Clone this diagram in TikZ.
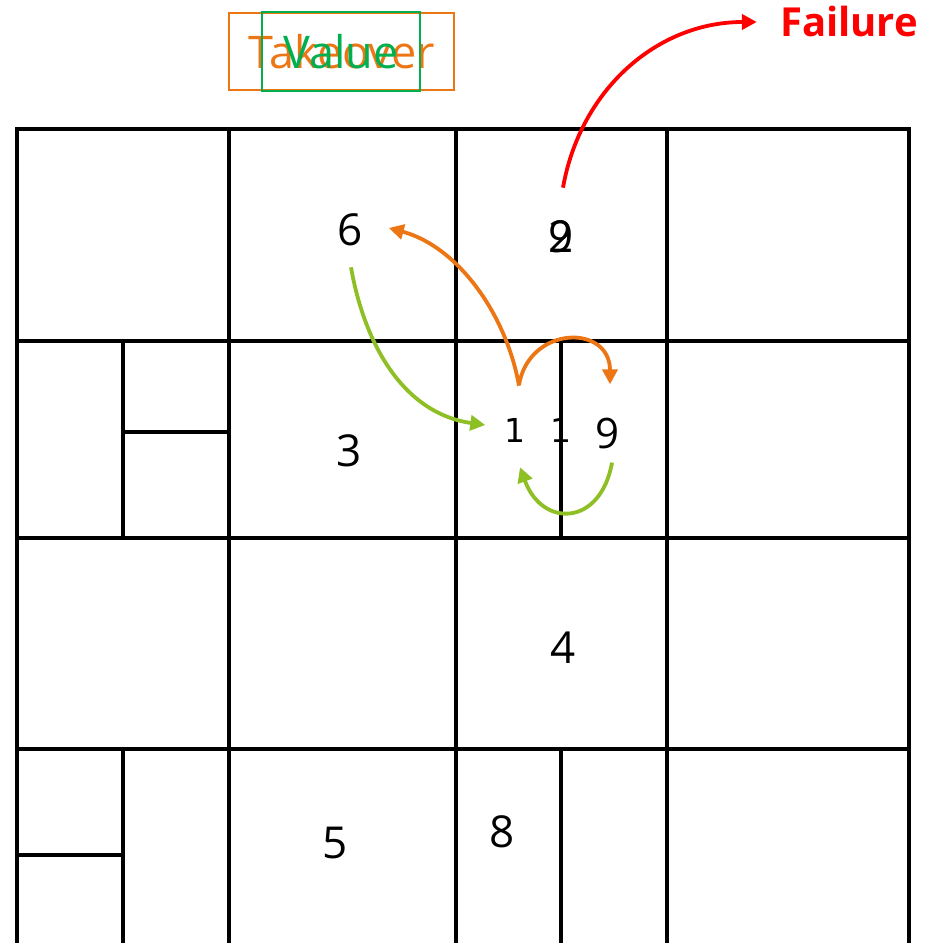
\documentclass[tikz,border=0pt]{standalone}
\usepackage{fontspec}
\setmainfont{Open Sans}
\newfontfamily\onesfont{DejaVu Sans}
\usetikzlibrary{arrows.meta}

\definecolor{kickTableOrange}{RGB}{237,118,20}
\definecolor{kickTableGreen}{RGB}{0,176,80}
\definecolor{kickTableLime}{RGB}{142,192,38}
\definecolor{kickTableRed}{RGB}{255,0,0}

\begin{document}
\begin{tikzpicture}[x=1pt,y=1pt,
      grid/.style={draw=black, line width=4.6pt, line join=miter},
      digit/.style={font=\fontsize{44}{48}\selectfont, inner sep=1pt},
      onedigit/.style={font=\fontsize{33}{36}\selectfont\onesfont, inner sep=1pt},
      title/.style={font=\fontsize{45}{50}\selectfont, line width=2pt,
        inner sep=0pt},
      kick/.style={line width=3.8pt, -{Triangle[length=15pt,width=15pt]}}]
      \useasboundingbox (0,0) rectangle (927,943);
      \fill[white] (0,0) rectangle (927,943);

      % table cells
      \draw[grid] (17,0) -- (17,814) -- (909,814) -- (909,0);
      \foreach \gx in {229,456,667}
        \draw[grid] (\gx,0) -- (\gx,814);
      \foreach \gy in {602,405,194}
        \draw[grid] (17,\gy) -- (909,\gy);
      \draw[grid] (123,405) -- (123,602) (123,511) -- (229,511);
      \draw[grid] (561,405) -- (561,602);
      \draw[grid] (123,0) -- (123,194) (17,88) -- (123,88);
      \draw[grid] (561,0) -- (561,194);

      \node[title, draw=kickTableOrange, text=kickTableOrange,
        minimum width=225pt, minimum height=77pt] (takeover) at (341.5,891.5) {Takeover};
      \node[title, draw=kickTableGreen, text=kickTableGreen,
        minimum width=158pt, minimum height=79pt] (value) at (341,891) {Value};
      \node[font=\fontsize{40}{44}\selectfont\bfseries, text=kickTableRed,
        inner sep=1pt] (failure) at (849,921) {Failure};

      \node[digit] (six) at (350,713) {6};
      \node[digit] (nineTop) at (561,706) {9};
      \node[digit] (twoTop) at (561,706) {2};
      \node[digit] (three) at (349,492) {3};
      \node[onedigit] (oneLeft) at (515,513) {1};
      \node[onedigit] (oneRight) at (561,513) {1};
      \node[font=\fontsize{42}{46}\selectfont, inner sep=1pt] (nine) at (608,509) {9};
      \node[digit] (four) at (563,295) {4};
      \node[digit] (five) at (335,100) {5};
      \node[digit] (eight) at (502,111) {8};

      \draw[kick, kickTableOrange] ([xshift=4pt,yshift=31pt]oneLeft.north)
        to[out=100,in=-15,looseness=.9] ([xshift=25pt,yshift=2pt]six.east);
      \draw[kick, kickTableOrange] ([xshift=4pt,yshift=32pt]oneLeft.north)
        to[out=80,in=90,looseness=1.7] ([xshift=2pt,yshift=33pt]nine.north);
      \draw[kick, kickTableLime] ([xshift=1pt,yshift=-20pt]six.south)
        to[out=-80,in=172] ([xshift=-18pt,yshift=5pt]oneLeft.west);
      \draw[kick, kickTableLime] ([xshift=4pt,yshift=-12pt]nine.south)
        to[out=-100,in=-70,looseness=1.8] ([xshift=5pt,yshift=-24pt]oneLeft.south);
      \draw[kick, kickTableRed] ([xshift=2pt,yshift=32pt]nineTop.north)
        to[out=80,in=180] ([xshift=-22pt]failure.west);
    \end{tikzpicture}
\end{document}
